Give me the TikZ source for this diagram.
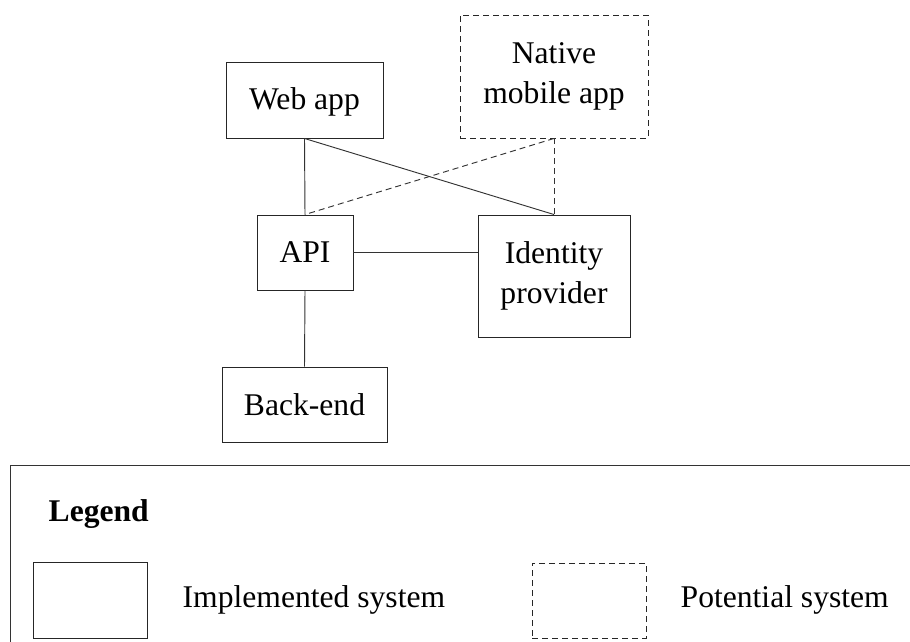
\documentclass[tikz,border=0pt]{standalone}
\usepackage{fontspec}
\setmainfont{Liberation Serif}
\begin{document}
\begin{tikzpicture}[x=0.75pt, y=-0.75pt,
  every node/.style={font=\fontsize{23.7}{30}\selectfont},
  sysbox/.style={draw=black!85, line width=0.7pt, rectangle, inner sep=0pt, align=center},
  potential/.style={sysbox, dash pattern=on 4.5pt off 3pt},
  link/.style={draw=black!80, line width=0.7pt},
  potlink/.style={link, dash pattern=on 4.5pt off 3pt}]
  \useasboundingbox (0,0) rectangle (910,642);
  \clip (0,0) rectangle (910,642);

  % systems
  \node[sysbox, minimum width=117.75pt, minimum height=57pt, text depth=0.25em] (web) at (304.5,100) {Web app};
  \node[potential, minimum width=141pt, minimum height=92.25pt] (native) at (554,76.5) {Native\\mobile app};
  \node[sysbox, minimum width=72pt, minimum height=56.25pt] (api) at (305,252.5) {API};
  \node[sysbox, minimum width=114pt, minimum height=91.5pt] (idp) at (554,276) {Identity\\provider};
  \node[sysbox, minimum width=123.75pt, minimum height=56.25pt] (back) at (304.5,404.5) {Back-end};

  % connections
  \draw[link] (web.south) -- (api.north);
  \draw[link] (web.south) -- (idp.north);
  \draw[potlink] (native.south) -- (api.north);
  \draw[potlink] (native.south) -- (idp.north);
  \draw[link] (api.east) -- (api.east -| idp.west);
  \draw[link] (api.south) -- (back.north);

  % legend
  \draw[link] (10,465) rectangle (940,680);
  \node[anchor=west, font=\fontsize{23.7}{30}\selectfont\bfseries] (legtitle) at (44,514) {Legend};
  \node[sysbox, minimum width=85.5pt, minimum height=57pt] (legimpl) at (90,600) {};
  \node[anchor=west] (legimpltxt) at (178,600) {Implemented system};
  \node[potential, minimum width=85.5pt, minimum height=56.25pt] (legpot) at (589,600.5) {};
  \node[anchor=west] (legpottxt) at (676,600) {Potential system};
\end{tikzpicture}
\end{document}
